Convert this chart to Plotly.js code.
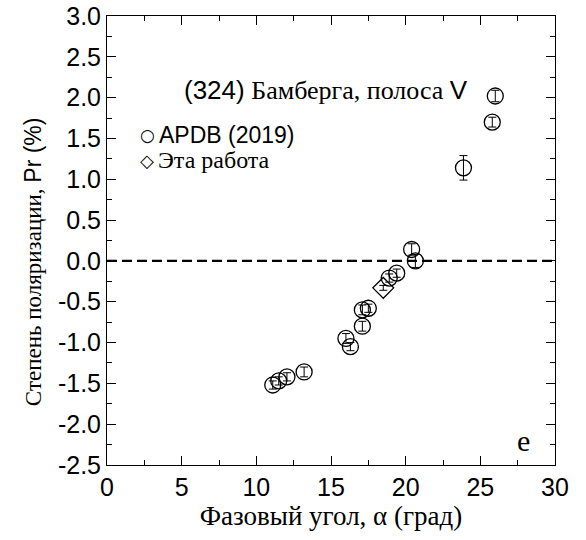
<!DOCTYPE html>
<html>
<head>
<meta charset="utf-8">
<script src="https://cdn.plot.ly/plotly-3.0.1.min.js"></script>
<style>html,body{margin:0;padding:0;background:#fff;}</style>
</head>
<body>
<div id="chart" style="width:586px;height:540px;"></div>
<script>
// APDB (2019) data
const apdbAlpha = [11.1, 11.5, 12.05, 13.2, 16.0, 16.3, 17.1, 17.5, 17.1, 18.9, 19.4, 20.4, 20.65, 23.87, 25.8, 26.0];
const apdbPr    = [-1.52, -1.47, -1.42, -1.36, -0.95, -1.05, -0.60, -0.58, -0.80, -0.21, -0.15, 0.14, 0.0, 1.14, 1.70, 2.02];
const apdbErr   = [0.05, 0.05, 0.05, 0.06, 0.06, 0.05, 0.06, 0.05, 0.06, 0.05, 0.05, 0.07, 0.08, 0.15, 0.06, 0.07];
// This work
const workAlpha = [18.5];
const workPr    = [-0.33];
const workErr   = [0.03];
// Tick labels
const xTickVals = [0, 5, 10, 15, 20, 25, 30];
const xTickText = ['0', '5', '10', '15', '20', '25', '30'];
const yTickVals = [-2.5, -2.0, -1.5, -1.0, -0.5, 0.0, 0.5, 1.0, 1.5, 2.0, 2.5, 3.0];
const yTickText = ['-2.5', '-2.0', '-1.5', '-1.0', '-0.5', '0.0', '0.5', '1.0', '1.5', '2.0', '2.5', '3.0'];

const serif = 'Liberation Serif';
const sans = 'Liberation Sans';

const traces = [
  {
    x: apdbAlpha, y: apdbPr, type: 'scatter', mode: 'markers', name: 'APDB (2019)',
    marker: {symbol: 'circle-open', size: 16, color: '#000', line: {width: 1.3, color: '#000'}},
    error_y: {type: 'data', array: apdbErr, visible: true, color: '#000', thickness: 1, width: 4},
    showlegend: false
  },
  {
    x: workAlpha, y: workPr, type: 'scatter', mode: 'markers', name: 'Эта работа',
    marker: {symbol: 'diamond-open', size: 16, color: '#000', line: {width: 1.3, color: '#000'}},
    error_y: {type: 'data', array: workErr, visible: true, color: '#000', thickness: 1, width: 4},
    showlegend: false
  }
];

const layout = {
  width: 586, height: 540,
  margin: {l: 107, r: 31, t: 16, b: 75},
  paper_bgcolor: '#fff', plot_bgcolor: '#fff',
  showlegend: false,
  xaxis: {
    range: [0, 30], tickmode: 'array', tickvals: xTickVals, ticktext: xTickText,
    ticks: 'inside', ticklen: 9, tickwidth: 1, tickcolor: '#000',
    minor: {dtick: 2.5, tick0: 0, ticks: 'inside', ticklen: 5, tickcolor: '#000', tickwidth: 1},
    showline: true, linecolor: '#000', linewidth: 1, mirror: 'ticks',
    showgrid: false, zeroline: false,
    tickfont: {family: sans, size: 25, color: '#000'},
    title: {text: 'Фазовый угол, α (град)', font: {family: serif, size: 27, color: '#000'}, standoff: 6}
  },
  yaxis: {
    range: [-2.5, 3.0], tickmode: 'array', tickvals: yTickVals, ticktext: yTickText,
    ticks: 'inside', ticklen: 9, tickwidth: 1, tickcolor: '#000',
    minor: {dtick: 0.25, tick0: 0, ticks: 'inside', ticklen: 5, tickcolor: '#000', tickwidth: 1},
    showline: true, linecolor: '#000', linewidth: 1, mirror: 'ticks',
    showgrid: false, zeroline: false,
    tickfont: {family: sans, size: 25, color: '#000'}
  },
  shapes: [
    {type: 'line', xref: 'x', yref: 'y', x0: 0, x1: 30, y0: 0, y1: 0,
     line: {color: '#000', width: 2.2, dash: '10px,5px'}}
  ],
  annotations: [
    {xref: 'paper', yref: 'paper', x: -0.165, y: 0.452, xanchor: 'center', yanchor: 'middle', showarrow: false,
     textangle: -90,
     text: 'Степень поляризации, <span style="font-family:Liberation Sans">Pr (%)</span>',
     font: {family: serif, size: 23, color: '#000'}},
    {xref: 'paper', yref: 'paper', x: 0.488, y: 0.835, xanchor: 'center', yanchor: 'middle', showarrow: false,
     text: '<span style="font-family:Liberation Sans">(324)</span> Бамберга, полоса <span style="font-family:Liberation Sans">V</span>',
     font: {family: serif, size: 26, color: '#000'}},
    {xref: 'paper', yref: 'paper', x: 0.0915, y: 0.735, xanchor: 'center', yanchor: 'middle', showarrow: false,
     text: '○', font: {family: 'DejaVu Sans', size: 17, color: '#000'}},
    {xref: 'paper', yref: 'paper', x: 0.1116, y: 0.735, xanchor: 'left', yanchor: 'middle', showarrow: false,
     text: 'APDB (2019)', font: {family: sans, size: 23, color: '#000'}},
    {xref: 'paper', yref: 'paper', x: 0.0895, y: 0.679, xanchor: 'center', yanchor: 'middle', showarrow: false,
     text: '◇', font: {family: 'DejaVu Sans', size: 18, color: '#000'}},
    {xref: 'paper', yref: 'paper', x: 0.109, y: 0.679, xanchor: 'left', yanchor: 'middle', showarrow: false,
     text: 'Эта работа', font: {family: serif, size: 24, color: '#000'}},
    {xref: 'paper', yref: 'paper', x: 0.929, y: 0.055, xanchor: 'center', yanchor: 'middle', showarrow: false,
     text: 'e', font: {family: serif, size: 30, color: '#000'}}
  ]
};

Plotly.newPlot('chart', traces, layout, {staticPlot: true, displayModeBar: false});
</script>
</body>
</html>
